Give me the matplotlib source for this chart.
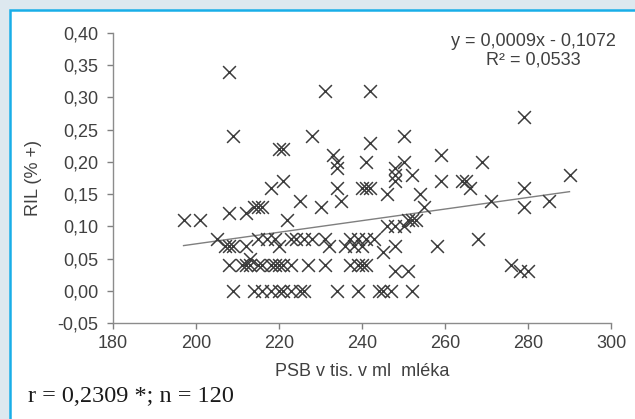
import matplotlib.pyplot as plt
from matplotlib.patches import Rectangle

# PSB (thousands per ml) and RIL (% +)
psb = [208, 231, 242, 279, 209, 228, 250, 242, 220, 221,
       233, 259, 234, 241, 250, 269, 234, 248, 248, 252,
       290, 221, 248, 259, 264, 265, 218, 234, 240, 241,
       242, 266, 279, 225, 235, 246, 254, 271, 285, 214,
       215, 216, 230, 255, 279, 208, 212, 197, 201, 222,
       251, 252, 253, 246, 248, 250, 205, 215, 217, 219,
       223, 224, 226, 228, 231, 237, 239, 241, 243, 268,
       207, 208, 209, 212, 220, 232, 236, 238, 240, 248,
       258, 245, 213, 208, 211, 212, 213, 215, 216, 218,
       219, 220, 221, 223, 227, 231, 237, 239, 240, 241,
       276, 248, 251, 278, 280, 209, 214, 216, 218, 220,
       221, 223, 225, 226, 234, 239, 244, 245, 247, 252]
ril = [0.34, 0.31, 0.31, 0.27, 0.24, 0.24, 0.24, 0.23, 0.22, 0.22,
       0.21, 0.21, 0.20, 0.20, 0.20, 0.20, 0.19, 0.19, 0.18, 0.18,
       0.18, 0.17, 0.17, 0.17, 0.17, 0.17, 0.16, 0.16, 0.16, 0.16,
       0.16, 0.16, 0.16, 0.14, 0.14, 0.15, 0.15, 0.14, 0.14, 0.13,
       0.13, 0.13, 0.13, 0.13, 0.13, 0.12, 0.12, 0.11, 0.11, 0.11,
       0.11, 0.11, 0.11, 0.10, 0.10, 0.10, 0.08, 0.08, 0.08, 0.08,
       0.08, 0.08, 0.08, 0.08, 0.08, 0.08, 0.08, 0.08, 0.08, 0.08,
       0.07, 0.07, 0.07, 0.07, 0.07, 0.07, 0.07, 0.07, 0.07, 0.07,
       0.07, 0.06, 0.05, 0.04, 0.04, 0.04, 0.04, 0.04, 0.04, 0.04,
       0.04, 0.04, 0.04, 0.04, 0.04, 0.04, 0.04, 0.04, 0.04, 0.04,
       0.04, 0.03, 0.03, 0.03, 0.03, 0.00, 0.00, 0.00, 0.00, 0.00,
       0.00, 0.00, 0.00, 0.00, 0.00, 0.00, 0.00, 0.00, 0.00, 0.00]

# linear trend as printed on the chart
slope = 0.0009
intercept = -0.1072

x_ticks = [180, 200, 220, 240, 260, 280, 300]
y_ticks = [-0.05, 0.00, 0.05, 0.10, 0.15, 0.20, 0.25, 0.30, 0.35, 0.40]

plt.rcParams['font.family'] = ['Liberation Sans', 'DejaVu Sans']
text_col = '#404040'

fig = plt.figure(figsize=(6.35, 4.19), dpi=100)
fig.patch.set_facecolor('#dde8ef')
panel = Rectangle((10 / 635, -0.05), 1.1, 1 - 10.5 / 419 + 0.05,
                  transform=fig.transFigure, facecolor='white',
                  edgecolor='#19aee8', linewidth=1.8, zorder=-10)
fig.patches.append(panel)

ax = fig.add_axes([113 / 635, 1 - 323 / 419, (611 - 113) / 635, (323 - 33) / 419])
ax.set_facecolor('none')

ax.scatter(psb, ril, marker='x', s=85, color='#3c3c3c', linewidths=1.1, zorder=3)

x0, x1 = min(psb), max(psb)
ax.plot([x0, x1], [slope * x0 + intercept, slope * x1 + intercept],
        color='#7f7f7f', lw=1.0, zorder=2)

ax.set_xlim(180, 300)
ax.set_ylim(-0.05, 0.40)
ax.set_xticks(x_ticks)
ax.set_yticks(y_ticks)
ax.set_yticklabels([f"{v:.2f}".replace('.', ',') for v in y_ticks])
ax.tick_params(colors='#808080', labelcolor=text_col, labelsize=13, length=4.5, width=1)
ax.tick_params(axis='y', pad=6)
ax.tick_params(axis='x', pad=4)

for s in ['top', 'right']:
    ax.spines[s].set_visible(False)
for s in ['left', 'bottom']:
    ax.spines[s].set_color('#8c8c8c')
    ax.spines[s].set_linewidth(1.0)

ax.set_xlabel('PSB v tis. v ml  mléka', fontsize=13, color=text_col, labelpad=8)
ax.set_ylabel('RIL (% +)', fontsize=13, color=text_col, labelpad=11)

ax.text(0.845, 1.0, 'y = 0,0009x - 0,1072\nR² = 0,0533', transform=ax.transAxes,
        ha='center', va='top', fontsize=13, color=text_col, linespacing=1.1)

fig.text(28 / 635, 1 - 396 / 419, 'r = 0,2309 *; n = 120', family='Liberation Serif',
         fontsize=17.5, color='#1a1a1a', ha='left', va='center')

fig.savefig('out.png', dpi=100, facecolor=fig.get_facecolor())
